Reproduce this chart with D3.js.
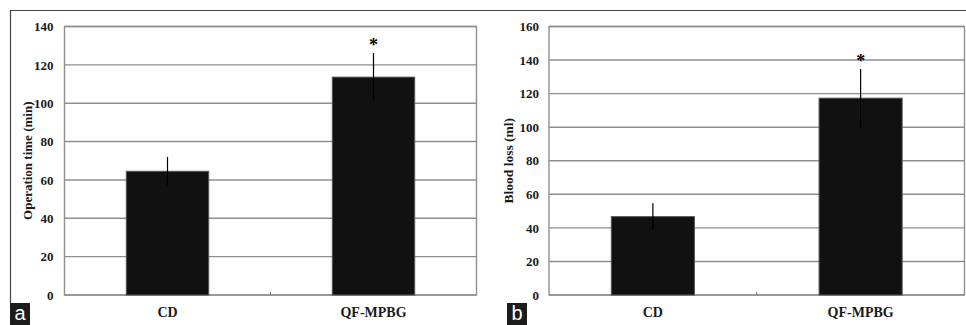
<!DOCTYPE html>
<html>
<head>
<meta charset="utf-8">
<script src="https://cdn.jsdelivr.net/npm/d3@7/dist/d3.min.js"></script>
<style>
  body { margin: 0; background: #fff; }
  svg { display: block; }
  text { font-family: "Liberation Serif", "Times New Roman", serif; font-weight: bold; fill: #1a1a1a; }
</style>
</head>
<body>
<svg id="chart" width="966" height="325"></svg>
<script>
// data
const categories = ["CD", "QF-MPBG"];
const opTimeMean = [64.5, 113.6];
const opTimeErr = [7.5, 12.6];
const bloodLossMean = [46.7, 117.3];
const bloodLossErr = [8, 17.4];
const opTimeTicks = [0, 20, 40, 60, 80, 100, 120, 140];
const bloodLossTicks = [0, 20, 40, 60, 80, 100, 120, 140, 160];
const starred = [false, true];

const svg = d3.select("#chart");

// outer frame (top line runs across, left line on panel a only)
svg.append("line").attr("x1", 10).attr("x2", 966).attr("y1", 10.5).attr("y2", 10.5)
    .style("stroke", "#444").style("stroke-width", 1.2);
svg.append("line").attr("x1", 10.5).attr("x2", 10.5).attr("y1", 10.5).attr("y2", 303)
    .style("stroke", "#444").style("stroke-width", 1.2);

function draw_panel(cfg) {
    const g = svg.append("g");
    const x = d3.scaleBand().domain(categories)
        .range([cfg.left, cfg.right]).paddingInner(0.6).paddingOuter(0.3);
    const y = d3.scaleLinear().domain([0, cfg.ticks[cfg.ticks.length - 1]])
        .range([cfg.bottom, cfg.top]);

    const rows = categories.map((c, i) => ({
        cat: c, mean: cfg.means[i], err: cfg.errs[i], star: starred[i]
    }));
    const cx = d => x(d.cat) + x.bandwidth() / 2;

    // grid lines
    g.selectAll(".grid").data(cfg.ticks).join("line")
        .attr("x1", cfg.left).attr("x2", cfg.right)
        .attr("y1", d => y(d)).attr("y2", d => y(d))
        .style("stroke", "#8f8f8f").style("stroke-width", 1.4);

    // plot border
    g.append("rect")
        .attr("x", cfg.left).attr("y", cfg.top)
        .attr("width", cfg.right - cfg.left).attr("height", cfg.bottom - cfg.top)
        .style("fill", "none").style("stroke", "#8f8f8f").style("stroke-width", 1.4);

    // y axis labels
    const yAxis = d3.axisLeft(y).tickValues(cfg.ticks).tickSize(0).tickPadding(cfg.tickGap);
    const ax = g.append("g").attr("transform", "translate(" + cfg.left + ",0)").call(yAxis);
    ax.select(".domain").remove();
    ax.selectAll("text")
        .style("font-family", "'Liberation Serif', serif")
        .style("font-weight", "bold")
        .style("font-size", "13px")
        .style("fill", "#1a1a1a");

    // tick between categories
    const mid = (cfg.left + cfg.right) / 2;
    g.append("line").attr("x1", mid).attr("x2", mid)
        .attr("y1", cfg.bottom - 3).attr("y2", cfg.bottom)
        .style("stroke", "#777").style("stroke-width", 1);

    // bars
    g.selectAll(".bar").data(rows).join("rect")
        .attr("x", d => x(d.cat))
        .attr("y", d => y(d.mean))
        .attr("width", x.bandwidth())
        .attr("height", d => cfg.bottom - y(d.mean))
        .style("fill", "#111")
        .style("stroke", "#555")
        .style("stroke-width", 1);

    // error bars
    g.selectAll(".err").data(rows).join("line")
        .attr("x1", cx).attr("x2", cx)
        .attr("y1", d => y(d.mean - d.err))
        .attr("y2", d => y(d.mean + d.err))
        .style("stroke", "#000").style("stroke-width", 1.2);

    // significance stars
    g.selectAll(".star").data(rows.filter(d => d.star)).join("text")
        .attr("x", cx)
        .attr("y", d => y(d.mean + d.err) - 1.5)
        .attr("text-anchor", "middle")
        .style("font-size", "18px")
        .style("fill", "#000")
        .text("*");

    // category labels
    g.selectAll(".cat").data(categories).join("text")
        .attr("x", d => x(d) + x.bandwidth() / 2)
        .attr("y", 316.5)
        .attr("text-anchor", "middle")
        .style("font-size", "14px")
        .text(d => d);

    // y title
    g.append("text")
        .attr("transform", "translate(" + cfg.titleX + "," + (cfg.top + cfg.bottom) / 2 + ") rotate(-90)")
        .attr("text-anchor", "middle")
        .attr("dy", "0.35em")
        .style("font-size", cfg.titleSize + "px")
        .text(cfg.title);

    // panel letter
    g.append("rect").attr("x", cfg.boxX).attr("y", 303)
        .attr("width", 20).attr("height", 22).style("fill", "#1c1c1c");
    g.append("text").attr("x", cfg.boxX + 10).attr("y", 320)
        .attr("text-anchor", "middle")
        .style("font-family", "'Liberation Sans', Arial, sans-serif")
        .style("font-weight", "normal")
        .style("font-size", "20px")
        .style("fill", "#fff")
        .text(cfg.letter);
}

draw_panel({
    left: 64.5, right: 476.5, top: 26.5, bottom: 295,
    ticks: opTimeTicks, means: opTimeMean, errs: opTimeErr,
    tickGap: 11, title: "Operation time (min)", titleX: 27, titleSize: 13,
    boxX: 10, letter: "a"
});

draw_panel({
    left: 549, right: 964.5, top: 26.5, bottom: 295,
    ticks: bloodLossTicks, means: bloodLossMean, errs: bloodLossErr,
    tickGap: 10, title: "Blood loss (ml)", titleX: 508, titleSize: 13.5,
    boxX: 507, letter: "b"
});
</script>
</body>
</html>
